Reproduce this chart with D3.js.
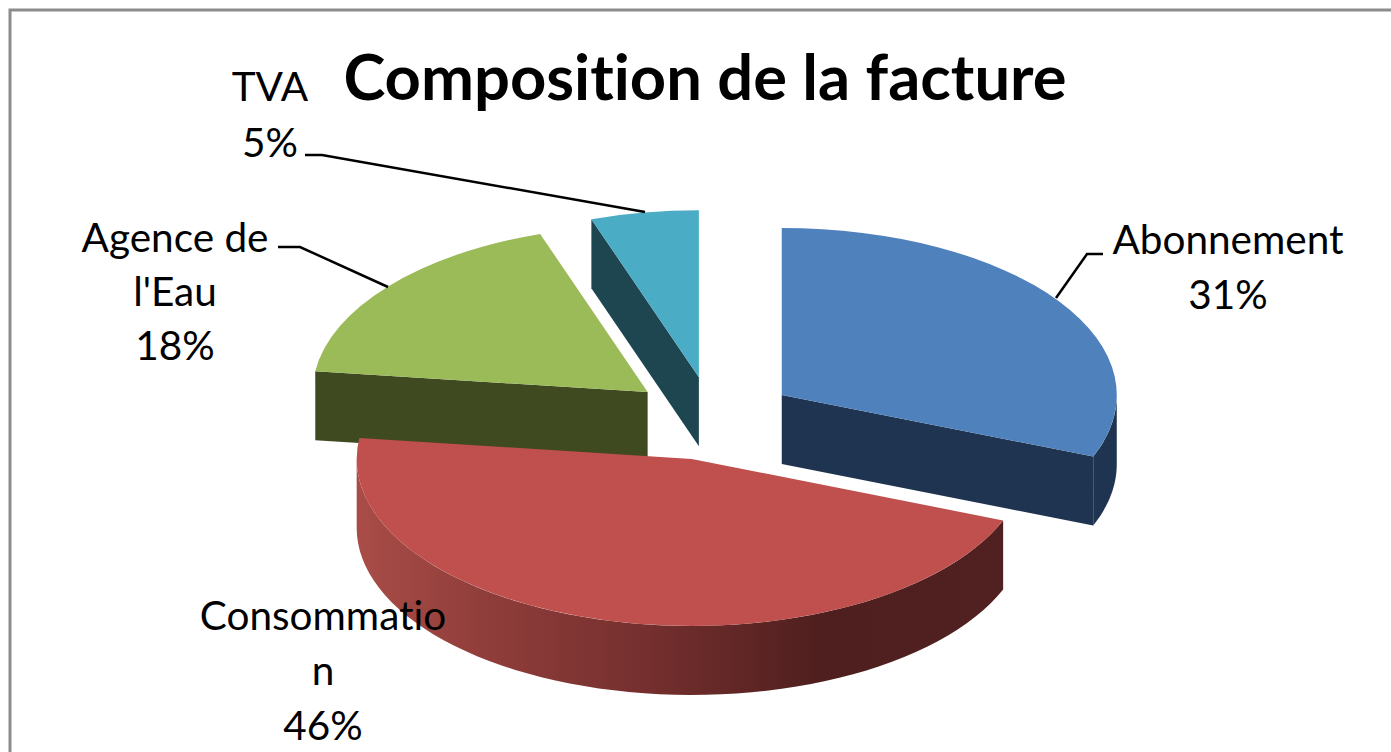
<!DOCTYPE html>
<html>
<head>
<meta charset="utf-8">
<script src="https://cdn.jsdelivr.net/npm/d3@7"></script>
<style>
  html, body { margin: 0; padding: 0; background: #fff; overflow: hidden; }
  text { font-family: Lato, "Open Sans", sans-serif; fill: #000; font-variant-ligatures: none; }
</style>
</head>
<body>
<div id="chart"></div>
<script>
const title = "Composition de la facture";
const categories = ["Abonnement", "Consommation", "Agence de l'Eau", "TVA"];
const values = [31, 46, 17.8, 5.2];
// how the labels wrap in the picture
const labelLines = [["Abonnement"], ["Consommatio", "n"], ["Agence de", "l'Eau"], ["TVA"]];
const topColors = ["#4f81bd", "#c0504d", "#9bbb59", "#4bacc6"];
const sideColors = ["#1f3450", "#4e1f1e", "#404a20", "#1e4651"];

const width = 1391;
const height = 752;

// Pie geometry
const cx = 712.5, cy = 418.5;
const rx = 335, ry = 167;
const depth = 69;
const explode = 0.25;

const svg = d3.select("#chart")
  .append("svg")
  .attr("width", width)
  .attr("height", height)
  .style("display", "block");

// Chart frame, runs off the right and bottom of the picture
svg.append("rect")
  .attr("x", 10)
  .attr("y", 10)
  .attr("width", width + 20)
  .attr("height", height + 20)
  .attr("fill", "#fff")
  .attr("stroke", "#8c8c8c")
  .attr("stroke-width", 3);

const topColor = d3.scaleOrdinal().domain(categories).range(topColors);
const sideColor = d3.scaleOrdinal().domain(categories).range(sideColors);

const slices = d3.pie().sort(null).value(d => d.value)(
  categories.map((name, i) => ({ name, value: values[i], lines: labelLines[i] }))
);

const arc = d3.arc().innerRadius(0).outerRadius(rx);
const line = d3.line();

// Gradient on the front wall of the big slice
const grad = svg.append("defs").append("linearGradient")
  .attr("id", "wallShade")
  .attr("gradientUnits", "userSpaceOnUse")
  .attr("x1", 360).attr("x2", 1003)
  .attr("y1", 0).attr("y2", 0);
[[0, "#a84c47"], [0.2, "#8f3d3a"], [0.45, "#742f2e"], [0.72, "#4e1f1e"], [1, "#502120"]]
  .forEach(([o, c]) => grad.append("stop").attr("offset", o).attr("stop-color", c));

function apexOf(d) {
  const mid = (d.startAngle + d.endAngle) / 2;
  return [cx + Math.sin(mid) * rx * explode, cy - Math.cos(mid) * ry * explode];
}

function rimPoint(apex, a) {
  return [apex[0] + Math.sin(a) * rx, apex[1] - Math.cos(a) * ry];
}

// Back to front, the red slice has to cover the foot of the green one
const drawOrder = [3, 2, 0, 1];
const pieGroup = svg.append("g");

drawOrder.forEach(i => {
  const d = slices[i];
  const apex = apexOf(d);
  const g = pieGroup.append("g");
  const dark = sideColor(d.data.name);
  const down = p => [p[0], p[1] + depth];

  // Cut faces turned towards the viewer
  [d.startAngle, d.endAngle].forEach((a, k) => {
    const visible = k === 0 ? Math.sin(a) < -1e-6 : Math.sin(a) > 1e-6;
    if (!visible) return;
    const p = rimPoint(apex, a);
    g.append("path")
      .attr("d", line([apex, p, down(p), down(apex)]) + "Z")
      .attr("fill", dark);
  });

  // Outer wall, only the front half of the rim shows
  const a0 = Math.max(d.startAngle, Math.PI / 2);
  const a1 = Math.min(d.endAngle, Math.PI * 1.5);
  if (a1 > a0) {
    const rim = d3.range(0, 61).map(t => rimPoint(apex, a0 + (a1 - a0) * t / 60));
    g.append("path")
      .attr("d", line(rim.concat(rim.map(down).reverse())) + "Z")
      .attr("fill", i === 1 ? "url(#wallShade)" : dark);
  }

  // Top face
  g.append("path")
    .attr("transform", `translate(${apex[0]},${apex[1]}) scale(1,${ry / rx})`)
    .attr("d", arc(d))
    .attr("fill", topColor(d.data.name));
});

// Leader lines
const leaders = [
  [[1103, 254], [1087, 254], [1056, 298]],
  [[278, 247], [300, 247], [388, 287]],
  [[305, 155], [322, 155], [645, 212]]
];
svg.selectAll(".leader")
  .data(leaders)
  .enter()
  .append("path")
  .attr("class", "leader")
  .attr("d", d => line(d))
  .attr("fill", "none")
  .attr("stroke", "#000")
  .attr("stroke-width", 2.5);

// Data labels
const labelPos = [
  { x: 1228, y: 254, dy: 55 },
  { x: 323, y: 630, dy: 55 },
  { x: 175, y: 252, dy: 54 },
  { x: 270, y: 101, dy: 56 }
];
slices.forEach((d, i) => {
  const t = svg.append("text")
    .attr("text-anchor", "middle")
    .style("font-size", "40.5px");
  d.data.lines.concat(`${Math.round(d.data.value)}%`).forEach((s, k) => {
    t.append("tspan")
      .attr("x", labelPos[i].x)
      .attr("y", labelPos[i].y + k * labelPos[i].dy)
      .text(s);
  });
});

// Title
svg.append("text")
  .attr("x", 705)
  .attr("y", 100)
  .attr("text-anchor", "middle")
  .style("font-size", "63.3px")
  .style("font-weight", "700")
  .text(title);
</script>
</body>
</html>
